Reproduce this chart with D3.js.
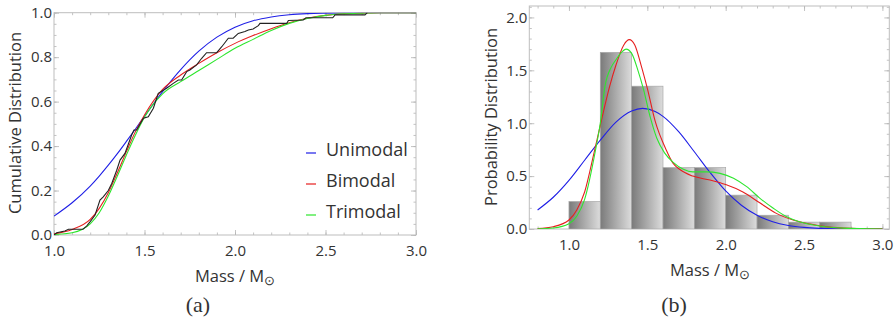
<!DOCTYPE html>
<html>
<head>
<meta charset="utf-8">
<script src="https://cdn.jsdelivr.net/npm/d3@7"></script>
<style>
  body { margin: 0; background: #fff; }
  text { font-family: "Open Sans", sans-serif; fill: #333; }
</style>
</head>
<body>
<svg id="fig" width="896" height="322"></svg>
<script>
// ---- data ----
// (a) empirical cumulative distribution (black)
var ecdfMass = [1.0, 1.015, 1.06, 1.08, 1.16, 1.18, 1.2, 1.227, 1.254, 1.272, 1.3, 1.319, 1.346, 1.365, 1.392,
  1.429, 1.442, 1.457, 1.494, 1.521, 1.549, 1.576, 1.622, 1.659, 1.687, 1.705, 1.733, 1.751, 1.788, 1.816,
  1.843, 1.899, 1.927, 1.963, 1.99, 2.018, 2.055, 2.074, 2.1, 2.129, 2.138, 2.286, 2.295, 2.377, 2.392,
  2.54, 2.553, 2.718, 2.731];
var ecdfValue = [0.0, 0.01, 0.018, 0.026, 0.026, 0.04, 0.06, 0.09, 0.157, 0.172, 0.2, 0.232, 0.29, 0.337, 0.367,
  0.45, 0.472, 0.472, 0.525, 0.532, 0.57, 0.637, 0.66, 0.682, 0.697, 0.697, 0.735, 0.742, 0.765, 0.795,
  0.82, 0.82, 0.847, 0.885, 0.885, 0.907, 0.915, 0.922, 0.927, 0.942, 0.952, 0.952, 0.965, 0.967, 0.977,
  0.977, 0.99, 0.99, 1.0];

// (a) fitted cumulative distributions
var cdfMass = [1.0, 1.1, 1.2, 1.25, 1.3, 1.35, 1.4, 1.45, 1.5, 1.6, 1.7, 1.8, 1.9, 2.0, 2.1, 2.2, 2.3, 2.4, 2.5, 2.6, 2.7, 2.8, 2.9, 3.0];
var cdfUnimodal = [0.085, 0.145, 0.22, 0.265, 0.314, 0.366, 0.421, 0.477, 0.534, 0.645, 0.744, 0.827, 0.89, 0.935, 0.964, 0.981, 0.991, 0.996, 0.998, 0.999, 1, 1, 1, 1];
var cdfBimodal = [0.005, 0.025, 0.07, 0.12, 0.19, 0.28, 0.375, 0.465, 0.54, 0.655, 0.72, 0.772, 0.82, 0.862, 0.897, 0.928, 0.955, 0.975, 0.988, 0.995, 0.998, 1, 1, 1];
var cdfTrimodal = [0.002, 0.01, 0.05, 0.1, 0.175, 0.265, 0.36, 0.45, 0.53, 0.635, 0.69, 0.74, 0.79, 0.84, 0.88, 0.92, 0.952, 0.974, 0.988, 0.995, 0.998, 1, 1, 1];

// (b) histogram
var binEdges = [1.0, 1.2, 1.4, 1.6, 1.8, 2.0, 2.2, 2.4, 2.6, 2.8];
var binDensity = [0.26, 1.67, 1.35, 0.58, 0.58, 0.32, 0.13, 0.065, 0.065];

// (b) fitted probability densities
var pdfUniMass = [0.8, 0.9, 1.0, 1.1, 1.2, 1.3, 1.4, 1.47, 1.55, 1.6, 1.7, 1.8, 1.9, 2.0, 2.1, 2.2, 2.3, 2.4, 2.5, 2.6, 2.7, 2.8, 3.0];
var pdfUni = [0.18, 0.30, 0.46, 0.65, 0.84, 1.01, 1.115, 1.14, 1.11, 1.065, 0.92, 0.73, 0.535, 0.36, 0.225, 0.13, 0.068, 0.033, 0.015, 0.006, 0.002, 0.001, 0.0];
var pdfBiMass = [0.8, 0.9, 1.0, 1.05, 1.1, 1.16, 1.2, 1.26, 1.3, 1.35, 1.385, 1.42, 1.46, 1.5, 1.55, 1.62, 1.665, 1.71, 1.79, 1.9, 2.0, 2.11, 2.22, 2.32, 2.43, 2.54, 2.65, 2.8, 3.0];
var pdfBi = [0.004, 0.022, 0.085, 0.18, 0.35, 0.72, 0.98, 1.35, 1.55, 1.74, 1.79, 1.74, 1.55, 1.33, 1.02, 0.75, 0.62, 0.56, 0.50, 0.463, 0.42, 0.35, 0.245, 0.15, 0.085, 0.047, 0.02, 0.006, 0.001];
var pdfTriMass = [0.8, 0.9, 1.0, 1.05, 1.1, 1.17, 1.2, 1.23, 1.27, 1.3, 1.335, 1.364, 1.4, 1.44, 1.474, 1.52, 1.56, 1.61, 1.665, 1.73, 1.79, 1.875, 1.964, 2.05, 2.134, 2.219, 2.304, 2.389, 2.47, 2.6, 2.75, 3.0];
var pdfTri = [0.002, 0.01, 0.05, 0.12, 0.28, 0.75, 1.0, 1.35, 1.53, 1.6, 1.67, 1.70, 1.66, 1.5, 1.33, 1.05, 0.86, 0.72, 0.63, 0.565, 0.54, 0.54, 0.526, 0.48, 0.40, 0.29, 0.196, 0.116, 0.069, 0.028, 0.008, 0.0];

var legendNames = ["Unimodal", "Bimodal", "Trimodal"];
var legendColors = ["#1f1fe6", "#e61f1f", "#2ee62e"];

var svg = d3.select("#fig");
var defs = svg.append("defs");

var grad = defs.append("linearGradient").attr("id", "barGrad")
  .attr("x1", "0%").attr("x2", "100%").attr("y1", "0%").attr("y2", "0%");
grad.append("stop").attr("offset", "0%").attr("stop-color", "#7a7a7a");
grad.append("stop").attr("offset", "100%").attr("stop-color", "#dcdcdc");

function range(a, b, s) {
  var out = [];
  for (var i = 0; a + i * s <= b + 1e-9; i++) out.push(+(a + i * s).toFixed(3));
  return out;
}

// draws a Mathematica-style frame with inward ticks on all four sides
function makePanel(o) {
  var x = d3.scaleLinear().domain(o.xd).range([o.left, o.right]);
  var y = d3.scaleLinear().domain(o.yd).range([o.bottom, o.top]);
  var g = svg.append("g");

  var xMinor = range(o.xMinorStart, o.xd[1], o.xMinorStep);
  var yMinor = range(o.yd[0], o.yd[1], o.yMinorStep);

  function style(sel) {
    sel.select(".domain").remove();
    sel.selectAll("line").attr("stroke", "#b4b4b4").attr("stroke-width", 0.8);
    sel.selectAll("text").attr("font-size", 15).attr("fill", "#333").style("font-family", "'Open Sans', sans-serif");
  }

  [[d3.axisBottom, o.bottom, true], [d3.axisTop, o.top, false]].forEach(function (a) {
    g.append("g").attr("transform", "translate(0," + a[1] + ")")
      .call(a[0](x).tickValues(xMinor).tickSize(-2.5).tickFormat("")).call(style);
    var ax = a[0](x).tickValues(o.xMajor).tickSize(-5).tickPadding(10).tickFormat(a[2] ? d3.format(".1f") : "");
    g.append("g").attr("transform", "translate(0," + a[1] + ")").call(ax).call(style);
  });
  [[d3.axisLeft, o.left, true], [d3.axisRight, o.right, false]].forEach(function (a) {
    g.append("g").attr("transform", "translate(" + a[1] + ",0)")
      .call(a[0](y).tickValues(yMinor).tickSize(-2.5).tickFormat("")).call(style);
    var ax = a[0](y).tickValues(o.yMajor).tickSize(-5).tickPadding(2).tickFormat(a[2] ? d3.format(".1f") : "");
    g.append("g").attr("transform", "translate(" + a[1] + ",0)").call(ax).call(style);
  });

  g.append("rect").attr("x", o.left).attr("y", o.top)
    .attr("width", o.right - o.left).attr("height", o.bottom - o.top)
    .attr("fill", "none").attr("stroke", "#bdbdbd").attr("stroke-width", 1);

  defs.append("clipPath").attr("id", o.id)
    .append("rect").attr("x", o.left).attr("y", o.top)
    .attr("width", o.right - o.left).attr("height", o.bottom - o.top);

  // y title
  g.append("text")
    .attr("transform", "translate(" + o.yTitleX + "," + o.yTitleY + ") rotate(-90)")
    .attr("text-anchor", "middle").attr("font-size", 16.5).attr("fill", "#333")
    .text(o.yTitle);

  // x title: Mass / M_sun
  var xt = g.append("text").attr("x", o.xTitleX).attr("y", o.xTitleY)
    .attr("text-anchor", "middle").attr("font-size", 16.5).attr("fill", "#333");
  xt.append("tspan").text("Mass / M");
  xt.append("tspan").attr("dy", 3).attr("font-size", 13).text("\u2299");

  // sub-caption
  g.append("text").attr("x", o.capX).attr("y", 312)
    .attr("text-anchor", "middle").attr("font-size", 22)
    .style("font-family", "'Liberation Serif', 'DejaVu Serif', serif").attr("fill", "#000")
    .text(o.caption);

  return { x: x, y: y, g: g };
}

// ---------- (a) ----------
var pa = makePanel({
  id: "clipA", left: 54, right: 416, top: 12.7, bottom: 235,
  xd: [1, 3], yd: [0, 1],
  xMajor: [1.0, 1.5, 2.0, 2.5, 3.0], xMinorStart: 1.0, xMinorStep: 0.1,
  yMajor: [0, 0.2, 0.4, 0.6, 0.8, 1.0], yMinorStep: 0.05,
  yTitle: "Cumulative Distribution", yTitleX: 21, yTitleY: 123,
  xTitleX: 235, xTitleY: 282, capX: 198, caption: "(a)"
});

var lineA = d3.line().x(function (d) { return pa.x(d[0]); }).y(function (d) { return pa.y(d[1]); });
var plotA = pa.g.append("g").attr("clip-path", "url(#clipA)");

[cdfUnimodal, cdfBimodal, cdfTrimodal].forEach(function (vals, i) {
  plotA.append("path")
    .datum(cdfMass.map(function (m, k) { return [m, vals[k]]; }))
    .attr("d", lineA.curve(d3.curveMonotoneX))
    .attr("fill", "none").attr("stroke", legendColors[i]).attr("stroke-width", 1.1);
});
plotA.append("path")
  .datum(ecdfMass.map(function (m, k) { return [m, ecdfValue[k]]; }))
  .attr("d", lineA.curve(d3.curveLinear))
  .attr("fill", "none").attr("stroke", "#222").attr("stroke-width", 1.1);

// legend
var leg = pa.g.append("g");
legendNames.forEach(function (name, i) {
  var cy = 150 + i * 31;
  leg.append("line").attr("x1", 306).attr("x2", 316).attr("y1", cy + 3).attr("y2", cy + 3)
    .attr("stroke", legendColors[i]).attr("stroke-width", 1.2);
  leg.append("text").attr("x", 326).attr("y", cy).attr("dy", "0.35em")
    .attr("font-size", 18).attr("fill", "#333").text(name);
});

// ---------- (b) ----------
var pb = makePanel({
  id: "clipB", left: 529.3, right: 889.3, top: 6, bottom: 229,
  xd: [0.747, 3.044], yd: [0, 2.108],
  xMajor: [1.0, 1.5, 2.0, 2.5, 3.0], xMinorStart: 0.8, xMinorStep: 0.1,
  yMajor: [0, 0.5, 1.0, 1.5, 2.0], yMinorStep: 0.1,
  yTitle: "Probability Distribution", yTitleX: 497, yTitleY: 117,
  xTitleX: 710, xTitleY: 276, capX: 674, caption: "(b)"
});
var plotB = pb.g.append("g").attr("clip-path", "url(#clipB)");

plotB.selectAll("rect.bar")
  .data(binDensity)
  .enter().append("rect").attr("class", "bar")
  .attr("x", function (d, i) { return pb.x(binEdges[i]); })
  .attr("y", function (d) { return pb.y(d); })
  .attr("width", function (d, i) { return pb.x(binEdges[i + 1]) - pb.x(binEdges[i]); })
  .attr("height", function (d) { return pb.y(0) - pb.y(d); })
  .attr("fill", "url(#barGrad)")
  .attr("stroke", "#a8a8a8").attr("stroke-width", 0.7);

var lineB = d3.line().x(function (d) { return pb.x(d[0]); }).y(function (d) { return pb.y(d[1]); })
  .curve(d3.curveMonotoneX);
[[pdfUniMass, pdfUni], [pdfBiMass, pdfBi], [pdfTriMass, pdfTri]].forEach(function (s, i) {
  plotB.append("path")
    .datum(s[0].map(function (m, k) { return [m, s[1][k]]; }))
    .attr("d", lineB)
    .attr("fill", "none").attr("stroke", legendColors[i]).attr("stroke-width", 1.1);
});
</script>
</body>
</html>
